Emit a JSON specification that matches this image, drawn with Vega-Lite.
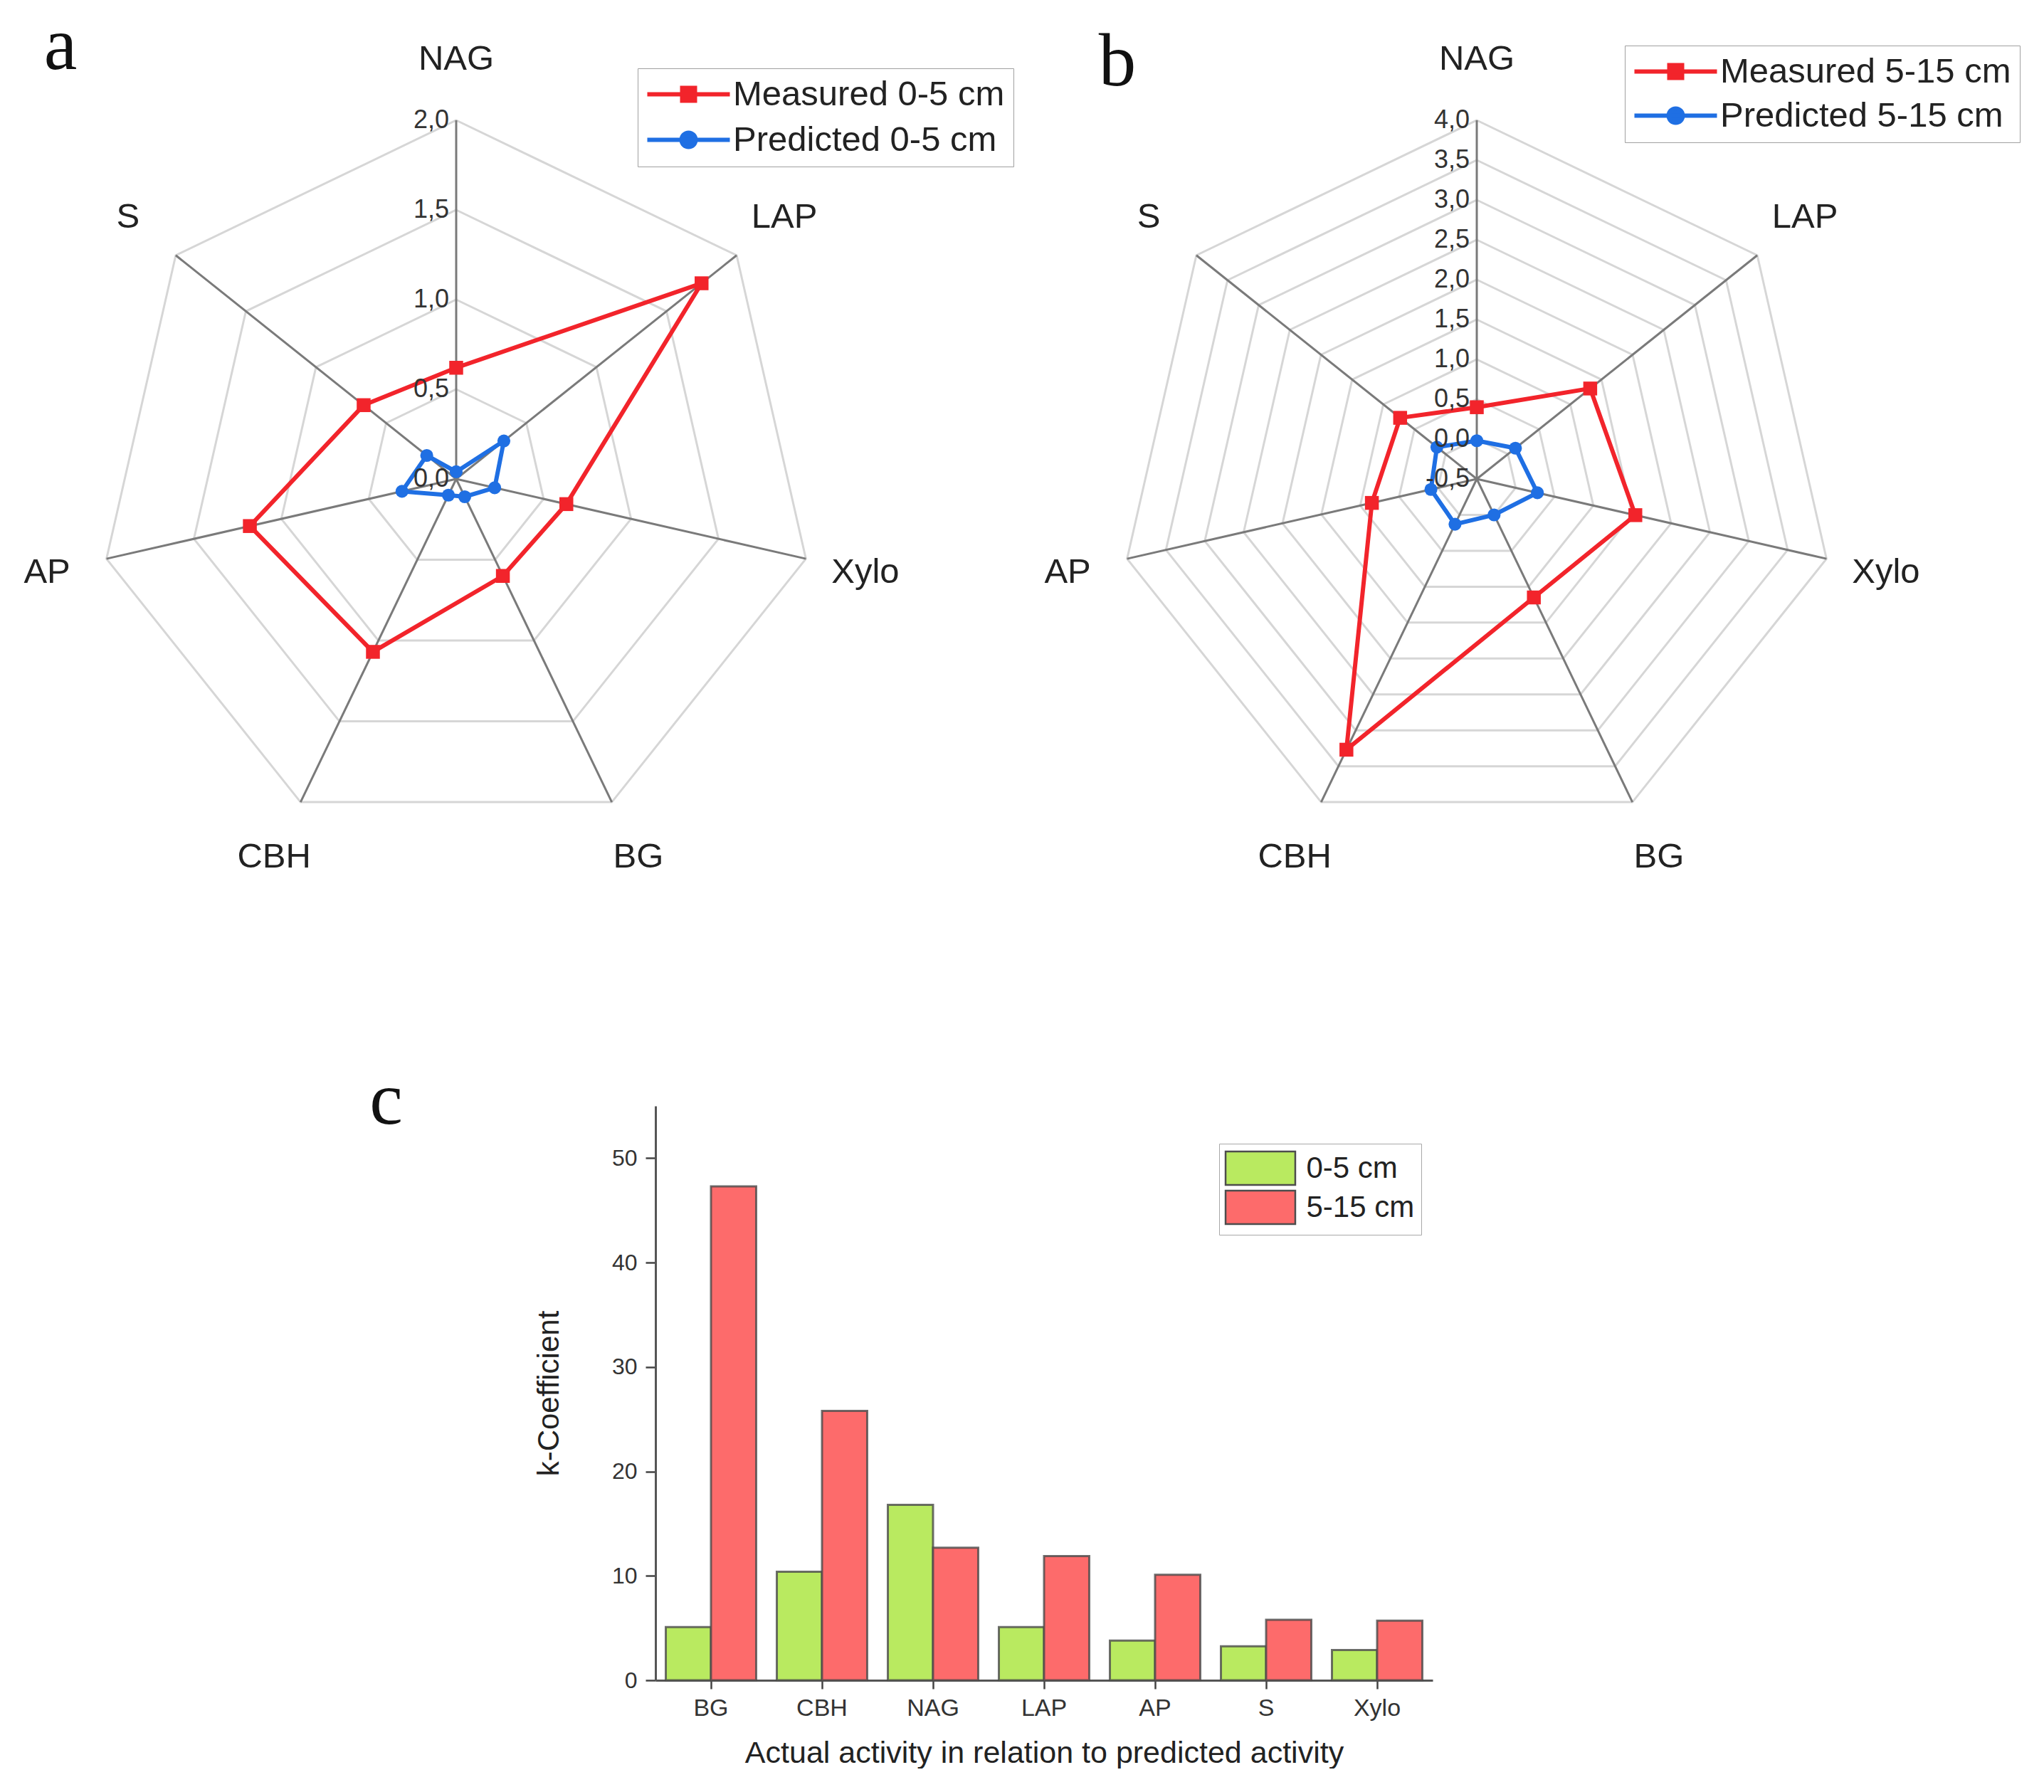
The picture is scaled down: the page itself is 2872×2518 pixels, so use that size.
{
  "$schema": "https://vega.github.io/schema/vega-lite/v6.json",
  "background": "white",
  "padding": 0,
  "bounds": "full",
  "spacing": 195,
  "resolve": {"scale": {"color": "independent"}, "legend": {"color": "independent"}},
  "config": {
    "view": {"stroke": null},
    "font": "Liberation Sans",
    "axis": {"grid": false},
    "text": {"font": "Liberation Sans"}
  },
  "datasets": {
    "enz": [{"enzyme": "NAG"}, {"enzyme": "LAP"}, {"enzyme": "Xylo"}, {"enzyme": "BG"}, {"enzyme": "CBH"}, {"enzyme": "AP"}, {"enzyme": "S"}],
    "ringsA": [
      {"ring": 0.5, "enzyme": ["NAG", "LAP", "Xylo", "BG", "CBH", "AP", "S"]},
      {"ring": 1.0, "enzyme": ["NAG", "LAP", "Xylo", "BG", "CBH", "AP", "S"]},
      {"ring": 1.5, "enzyme": ["NAG", "LAP", "Xylo", "BG", "CBH", "AP", "S"]},
      {"ring": 2.0, "enzyme": ["NAG", "LAP", "Xylo", "BG", "CBH", "AP", "S"]}
    ],
    "ringsB": [
      {"ring": 0.0, "enzyme": ["NAG", "LAP", "Xylo", "BG", "CBH", "AP", "S"]},
      {"ring": 0.5, "enzyme": ["NAG", "LAP", "Xylo", "BG", "CBH", "AP", "S"]},
      {"ring": 1.0, "enzyme": ["NAG", "LAP", "Xylo", "BG", "CBH", "AP", "S"]},
      {"ring": 1.5, "enzyme": ["NAG", "LAP", "Xylo", "BG", "CBH", "AP", "S"]},
      {"ring": 2.0, "enzyme": ["NAG", "LAP", "Xylo", "BG", "CBH", "AP", "S"]},
      {"ring": 2.5, "enzyme": ["NAG", "LAP", "Xylo", "BG", "CBH", "AP", "S"]},
      {"ring": 3.0, "enzyme": ["NAG", "LAP", "Xylo", "BG", "CBH", "AP", "S"]},
      {"ring": 3.5, "enzyme": ["NAG", "LAP", "Xylo", "BG", "CBH", "AP", "S"]},
      {"ring": 4.0, "enzyme": ["NAG", "LAP", "Xylo", "BG", "CBH", "AP", "S"]}
    ],
    "ticksA": [
      {"t": "2,0", "v": 2.0}, {"t": "1,5", "v": 1.5}, {"t": "1,0", "v": 1.0}, {"t": "0,5", "v": 0.5}, {"t": "0,0", "v": 0.0}
    ],
    "ticksB": [
      {"t": "4,0", "v": 4.0}, {"t": "3,5", "v": 3.5}, {"t": "3,0", "v": 3.0}, {"t": "2,5", "v": 2.5}, {"t": "2,0", "v": 2.0},
      {"t": "1,5", "v": 1.5}, {"t": "1,0", "v": 1.0}, {"t": "0,5", "v": 0.5}, {"t": "0,0", "v": 0.0}, {"t": "-0,5", "v": -0.5}
    ],
    "serA": [
      {"enzyme": "NAG", "series": "Measured 0-5 cm", "value": 0.62},
      {"enzyme": "LAP", "series": "Measured 0-5 cm", "value": 1.75},
      {"enzyme": "Xylo", "series": "Measured 0-5 cm", "value": 0.63},
      {"enzyme": "BG", "series": "Measured 0-5 cm", "value": 0.6},
      {"enzyme": "CBH", "series": "Measured 0-5 cm", "value": 1.07},
      {"enzyme": "AP", "series": "Measured 0-5 cm", "value": 1.18},
      {"enzyme": "S", "series": "Measured 0-5 cm", "value": 0.66},
      {"enzyme": "NAG", "series": "Predicted 0-5 cm", "value": 0.04},
      {"enzyme": "LAP", "series": "Predicted 0-5 cm", "value": 0.34},
      {"enzyme": "Xylo", "series": "Predicted 0-5 cm", "value": 0.22},
      {"enzyme": "BG", "series": "Predicted 0-5 cm", "value": 0.11},
      {"enzyme": "CBH", "series": "Predicted 0-5 cm", "value": 0.1},
      {"enzyme": "AP", "series": "Predicted 0-5 cm", "value": 0.31},
      {"enzyme": "S", "series": "Predicted 0-5 cm", "value": 0.21}
    ],
    "serB": [
      {"enzyme": "NAG", "series": "Measured 5-15 cm", "value": 0.4},
      {"enzyme": "LAP", "series": "Measured 5-15 cm", "value": 1.32},
      {"enzyme": "Xylo", "series": "Measured 5-15 cm", "value": 1.54},
      {"enzyme": "BG", "series": "Measured 5-15 cm", "value": 1.15},
      {"enzyme": "CBH", "series": "Measured 5-15 cm", "value": 3.27},
      {"enzyme": "AP", "series": "Measured 5-15 cm", "value": 0.85},
      {"enzyme": "S", "series": "Measured 5-15 cm", "value": 0.73},
      {"enzyme": "NAG", "series": "Predicted 5-15 cm", "value": -0.02},
      {"enzyme": "LAP", "series": "Predicted 5-15 cm", "value": 0.12},
      {"enzyme": "Xylo", "series": "Predicted 5-15 cm", "value": 0.28},
      {"enzyme": "BG", "series": "Predicted 5-15 cm", "value": 0.0},
      {"enzyme": "CBH", "series": "Predicted 5-15 cm", "value": 0.13},
      {"enzyme": "AP", "series": "Predicted 5-15 cm", "value": 0.09},
      {"enzyme": "S", "series": "Predicted 5-15 cm", "value": 0.14}
    ],
    "bars": [
      {"enzyme": "BG", "depth": "0-5 cm", "coef": 5.1}, {"enzyme": "BG", "depth": "5-15 cm", "coef": 47.3},
      {"enzyme": "CBH", "depth": "0-5 cm", "coef": 10.4}, {"enzyme": "CBH", "depth": "5-15 cm", "coef": 25.8},
      {"enzyme": "NAG", "depth": "0-5 cm", "coef": 16.8}, {"enzyme": "NAG", "depth": "5-15 cm", "coef": 12.7},
      {"enzyme": "LAP", "depth": "0-5 cm", "coef": 5.1}, {"enzyme": "LAP", "depth": "5-15 cm", "coef": 11.9},
      {"enzyme": "AP", "depth": "0-5 cm", "coef": 3.8}, {"enzyme": "AP", "depth": "5-15 cm", "coef": 10.1},
      {"enzyme": "S", "depth": "0-5 cm", "coef": 3.25}, {"enzyme": "S", "depth": "5-15 cm", "coef": 5.8},
      {"enzyme": "Xylo", "depth": "0-5 cm", "coef": 2.9}, {"enzyme": "Xylo", "depth": "5-15 cm", "coef": 5.7}
    ]
  },
  "vconcat": [
    {
      "bounds": "flush",
      "spacing": 0,
      "resolve": {"scale": {"color": "independent"}, "legend": {"color": "independent"}},
      "hconcat": [
        {
          "width": 1436,
          "height": 1300,
          "encoding": {
            "x": {"field": "x", "type": "quantitative", "scale": {"domain": [-1.2718, 1.5774]}, "axis": null},
            "y": {"field": "y", "type": "quantitative", "scale": {"domain": [-1.244, 1.3353]}, "axis": null}
          },
          "layer": [
            {
              "data": {"name": "ringsA"},
              "transform": [
                {"flatten": ["enzyme"]},
                {"calculate": "indexof(['NAG','LAP','Xylo','BG','CBH','AP','S'], datum.enzyme)", "as": "k"},
                {"calculate": "datum.ring / 2", "as": "r"},
                {"calculate": "datum.r * sin(datum.k * 2 * PI / 7)", "as": "x"},
                {"calculate": "datum.r * cos(datum.k * 2 * PI / 7)", "as": "y"}
              ],
              "mark": {"type": "line", "interpolate": "linear-closed", "stroke": "#d6d6d6", "strokeWidth": 3},
              "encoding": {"detail": {"field": "ring", "type": "nominal"}, "order": {"field": "k", "type": "quantitative"}}
            },
            {
              "data": {"name": "enz"},
              "transform": [
                {"calculate": "indexof(['NAG','LAP','Xylo','BG','CBH','AP','S'], datum.enzyme)", "as": "k"},
                {"calculate": "sin(datum.k * 2 * PI / 7)", "as": "x"},
                {"calculate": "cos(datum.k * 2 * PI / 7)", "as": "y"},
                {"calculate": "0", "as": "zero"}
              ],
              "mark": {"type": "rule", "stroke": "#7a7a7a", "strokeWidth": 3},
              "encoding": {"x2": {"field": "zero"}, "y2": {"field": "zero"}}
            },
            {
              "data": {"name": "serA"},
              "transform": [
                {"calculate": "indexof(['NAG','LAP','Xylo','BG','CBH','AP','S'], datum.enzyme)", "as": "k"},
                {"calculate": "datum.value / 2", "as": "r"},
                {"calculate": "datum.r * sin(datum.k * 2 * PI / 7)", "as": "x"},
                {"calculate": "datum.r * cos(datum.k * 2 * PI / 7)", "as": "y"}
              ],
              "mark": {"type": "line", "interpolate": "linear-closed", "strokeWidth": 6},
              "encoding": {
                "order": {"field": "k", "type": "quantitative"},
                "color": {
                  "field": "series", "type": "nominal",
                  "scale": {"domain": ["Measured 0-5 cm", "Predicted 0-5 cm"], "range": ["#f2242b", "#1f6fe3"]},
                  "legend": {
                    "title": null, "orient": "none", "legendX": 896, "legendY": 96, "padding": 12,
                    "strokeColor": "#a0a0a0", "fillColor": "#ffffff",
                    "labelFont": "Liberation Sans", "labelFontSize": 49, "labelColor": "#222222", "labelLimit": 1000,
                    "symbolSize": 1600, "symbolStrokeWidth": 6, "symbolOffset": 35, "labelOffset": 38, "rowPadding": 14,
                    "encode": {"symbols": {"update": {
                      "shape": {"signal": "datum.value === 'Measured 0-5 cm' ? 'M-2.9,0H2.9M-0.45,-0.45H0.45V0.45H-0.45Z' : 'M-2.9,0H2.9M-0.5,0A0.5,0.5,0,1,1,0.5,0A0.5,0.5,0,1,1,-0.5,0Z'"},
                      "fill": {"signal": "datum.value === 'Measured 0-5 cm' ? '#f2242b' : '#1f6fe3'"},
                      "stroke": {"signal": "datum.value === 'Measured 0-5 cm' ? '#f2242b' : '#1f6fe3'"},
                      "strokeWidth": {"value": 6},
                      "size": {"value": 1600},
                      "opacity": {"value": 1}
                    }}}
                  }
                }
              }
            },
            {
              "data": {"name": "serA"},
              "transform": [
                {"filter": "datum.series === 'Measured 0-5 cm'"},
                {"calculate": "indexof(['NAG','LAP','Xylo','BG','CBH','AP','S'], datum.enzyme)", "as": "k"},
                {"calculate": "datum.value / 2", "as": "r"},
                {"calculate": "datum.r * sin(datum.k * 2 * PI / 7)", "as": "x"},
                {"calculate": "datum.r * cos(datum.k * 2 * PI / 7)", "as": "y"}
              ],
              "mark": {"type": "point", "shape": "square", "filled": true, "opacity": 1, "size": 380},
              "encoding": {"color": {"field": "series", "type": "nominal"}}
            },
            {
              "data": {"name": "serA"},
              "transform": [
                {"filter": "datum.series === 'Predicted 0-5 cm'"},
                {"calculate": "indexof(['NAG','LAP','Xylo','BG','CBH','AP','S'], datum.enzyme)", "as": "k"},
                {"calculate": "datum.value / 2", "as": "r"},
                {"calculate": "datum.r * sin(datum.k * 2 * PI / 7)", "as": "x"},
                {"calculate": "datum.r * cos(datum.k * 2 * PI / 7)", "as": "y"}
              ],
              "mark": {"type": "point", "shape": "circle", "filled": true, "opacity": 1, "size": 330},
              "encoding": {"color": {"field": "series", "type": "nominal"}}
            },
            {
              "data": {"name": "enz"},
              "transform": [
                {"calculate": "indexof(['NAG','LAP','Xylo','BG','CBH','AP','S'], datum.enzyme)", "as": "k"},
                {"calculate": "1.17 * sin(datum.k * 2 * PI / 7)", "as": "x"},
                {"calculate": "1.17 * cos(datum.k * 2 * PI / 7)", "as": "y"}
              ],
              "mark": {"type": "text", "fontSize": 49, "align": "center", "baseline": "middle", "color": "#222222"},
              "encoding": {"text": {"field": "enzyme", "type": "nominal"}}
            },
            {
              "data": {"name": "ticksA"},
              "transform": [
                {"calculate": "0", "as": "x"},
                {"calculate": "datum.v / 2", "as": "y"}
              ],
              "mark": {"type": "text", "fontSize": 36, "align": "right", "baseline": "middle", "dx": -10, "color": "#333333"},
              "encoding": {"text": {"field": "t", "type": "nominal"}}
            },
            {
              "data": {"values": [{"lab": "a"}]},
              "transform": [
                {"calculate": "-1.103", "as": "x"},
                {"calculate": "1.143", "as": "y"}
              ],
              "mark": {"type": "text", "font": "Liberation Serif", "fontSize": 105, "align": "center", "baseline": "alphabetic", "color": "#111111"},
              "encoding": {"text": {"field": "lab", "type": "nominal"}}
            }
          ]
        },
        {
          "width": 1436,
          "height": 1300,
          "encoding": {
            "x": {"field": "x", "type": "quantitative", "scale": {"domain": [-1.2679, 1.5813]}, "axis": null},
            "y": {"field": "y", "type": "quantitative", "scale": {"domain": [-1.244, 1.3353]}, "axis": null}
          },
          "layer": [
            {
              "data": {"name": "ringsB"},
              "transform": [
                {"flatten": ["enzyme"]},
                {"calculate": "indexof(['NAG','LAP','Xylo','BG','CBH','AP','S'], datum.enzyme)", "as": "k"},
                {"calculate": "(datum.ring + 0.5) / 4.5", "as": "r"},
                {"calculate": "datum.r * sin(datum.k * 2 * PI / 7)", "as": "x"},
                {"calculate": "datum.r * cos(datum.k * 2 * PI / 7)", "as": "y"}
              ],
              "mark": {"type": "line", "interpolate": "linear-closed", "stroke": "#d6d6d6", "strokeWidth": 3},
              "encoding": {"detail": {"field": "ring", "type": "nominal"}, "order": {"field": "k", "type": "quantitative"}}
            },
            {
              "data": {"name": "enz"},
              "transform": [
                {"calculate": "indexof(['NAG','LAP','Xylo','BG','CBH','AP','S'], datum.enzyme)", "as": "k"},
                {"calculate": "sin(datum.k * 2 * PI / 7)", "as": "x"},
                {"calculate": "cos(datum.k * 2 * PI / 7)", "as": "y"},
                {"calculate": "0", "as": "zero"}
              ],
              "mark": {"type": "rule", "stroke": "#7a7a7a", "strokeWidth": 3},
              "encoding": {"x2": {"field": "zero"}, "y2": {"field": "zero"}}
            },
            {
              "data": {"name": "serB"},
              "transform": [
                {"calculate": "indexof(['NAG','LAP','Xylo','BG','CBH','AP','S'], datum.enzyme)", "as": "k"},
                {"calculate": "(datum.value + 0.5) / 4.5", "as": "r"},
                {"calculate": "datum.r * sin(datum.k * 2 * PI / 7)", "as": "x"},
                {"calculate": "datum.r * cos(datum.k * 2 * PI / 7)", "as": "y"}
              ],
              "mark": {"type": "line", "interpolate": "linear-closed", "strokeWidth": 6},
              "encoding": {
                "order": {"field": "k", "type": "quantitative"},
                "color": {
                  "field": "series", "type": "nominal",
                  "scale": {"domain": ["Measured 5-15 cm", "Predicted 5-15 cm"], "range": ["#f2242b", "#1f6fe3"]},
                  "legend": {
                    "title": null, "orient": "none", "legendX": 847, "legendY": 64, "padding": 12,
                    "strokeColor": "#a0a0a0", "fillColor": "#ffffff",
                    "labelFont": "Liberation Sans", "labelFontSize": 49, "labelColor": "#222222", "labelLimit": 1000,
                    "symbolSize": 1600, "symbolStrokeWidth": 6, "symbolOffset": 35, "labelOffset": 38, "rowPadding": 12,
                    "encode": {"symbols": {"update": {
                      "shape": {"signal": "datum.value === 'Measured 5-15 cm' ? 'M-2.9,0H2.9M-0.45,-0.45H0.45V0.45H-0.45Z' : 'M-2.9,0H2.9M-0.5,0A0.5,0.5,0,1,1,0.5,0A0.5,0.5,0,1,1,-0.5,0Z'"},
                      "fill": {"signal": "datum.value === 'Measured 5-15 cm' ? '#f2242b' : '#1f6fe3'"},
                      "stroke": {"signal": "datum.value === 'Measured 5-15 cm' ? '#f2242b' : '#1f6fe3'"},
                      "strokeWidth": {"value": 6},
                      "size": {"value": 1600},
                      "opacity": {"value": 1}
                    }}}
                  }
                }
              }
            },
            {
              "data": {"name": "serB"},
              "transform": [
                {"filter": "datum.series === 'Measured 5-15 cm'"},
                {"calculate": "indexof(['NAG','LAP','Xylo','BG','CBH','AP','S'], datum.enzyme)", "as": "k"},
                {"calculate": "(datum.value + 0.5) / 4.5", "as": "r"},
                {"calculate": "datum.r * sin(datum.k * 2 * PI / 7)", "as": "x"},
                {"calculate": "datum.r * cos(datum.k * 2 * PI / 7)", "as": "y"}
              ],
              "mark": {"type": "point", "shape": "square", "filled": true, "opacity": 1, "size": 380},
              "encoding": {"color": {"field": "series", "type": "nominal"}}
            },
            {
              "data": {"name": "serB"},
              "transform": [
                {"filter": "datum.series === 'Predicted 5-15 cm'"},
                {"calculate": "indexof(['NAG','LAP','Xylo','BG','CBH','AP','S'], datum.enzyme)", "as": "k"},
                {"calculate": "(datum.value + 0.5) / 4.5", "as": "r"},
                {"calculate": "datum.r * sin(datum.k * 2 * PI / 7)", "as": "x"},
                {"calculate": "datum.r * cos(datum.k * 2 * PI / 7)", "as": "y"}
              ],
              "mark": {"type": "point", "shape": "circle", "filled": true, "opacity": 1, "size": 330},
              "encoding": {"color": {"field": "series", "type": "nominal"}}
            },
            {
              "data": {"name": "enz"},
              "transform": [
                {"calculate": "indexof(['NAG','LAP','Xylo','BG','CBH','AP','S'], datum.enzyme)", "as": "k"},
                {"calculate": "1.17 * sin(datum.k * 2 * PI / 7)", "as": "x"},
                {"calculate": "1.17 * cos(datum.k * 2 * PI / 7)", "as": "y"}
              ],
              "mark": {"type": "text", "fontSize": 49, "align": "center", "baseline": "middle", "color": "#222222"},
              "encoding": {"text": {"field": "enzyme", "type": "nominal"}}
            },
            {
              "data": {"name": "ticksB"},
              "transform": [
                {"calculate": "0", "as": "x"},
                {"calculate": "(datum.v + 0.5) / 4.5", "as": "y"}
              ],
              "mark": {"type": "text", "fontSize": 36, "align": "right", "baseline": "middle", "dx": -10, "color": "#333333"},
              "encoding": {"text": {"field": "t", "type": "nominal"}}
            },
            {
              "data": {"values": [{"lab": "b"}]},
              "transform": [
                {"calculate": "-1.002", "as": "x"},
                {"calculate": "1.097", "as": "y"}
              ],
              "mark": {"type": "text", "font": "Liberation Serif", "fontSize": 105, "align": "center", "baseline": "alphabetic", "color": "#111111"},
              "encoding": {"text": {"field": "lab", "type": "nominal"}}
            }
          ]
        }
      ]
    },
    {
      "bounds": "flush",
      "spacing": 0,
      "resolve": {"scale": {"color": "independent"}, "legend": {"color": "independent"}},
      "hconcat": [
        {
          "width": 921,
          "height": 10,
          "data": {"values": [{"lab": "c"}]},
          "mark": {"type": "text", "font": "Liberation Serif", "fontSize": 105, "align": "center", "baseline": "alphabetic", "dx": 82, "dy": 20, "color": "#111111"},
          "encoding": {"text": {"field": "lab", "type": "nominal"}}
        },
        {
          "width": 1092,
          "height": 807,
          "data": {"name": "bars"},
          "mark": {"type": "bar", "stroke": "#4a4a4a", "strokeWidth": 3, "strokeOpacity": 0.8},
          "encoding": {
            "x": {
              "field": "enzyme", "type": "nominal",
              "sort": ["BG", "CBH", "NAG", "LAP", "AP", "S", "Xylo"],
              "scale": {"paddingInner": 0.186, "paddingOuter": 0.093},
              "title": "Actual activity in relation to predicted activity",
              "axis": {
                "labelAngle": 0, "labelFontSize": 34, "labelColor": "#333333", "labelPadding": 10,
                "tickSize": 12, "tickWidth": 2.5, "tickColor": "#444444",
                "domainColor": "#555555", "domainWidth": 3,
                "titleFontSize": 43, "titleFontWeight": "normal", "titleColor": "#222222", "titlePadding": 25
              }
            },
            "xOffset": {"field": "depth", "type": "nominal", "sort": ["0-5 cm", "5-15 cm"], "scale": {"paddingInner": 0, "paddingOuter": 0}},
            "y": {
              "field": "coef", "type": "quantitative",
              "scale": {"domain": [0, 55], "nice": false},
              "title": "k-Coefficient",
              "axis": {
                "values": [0, 10, 20, 30, 40, 50],
                "labelFontSize": 32, "labelColor": "#333333", "labelPadding": 12,
                "tickSize": 14, "tickWidth": 2.5, "tickColor": "#444444",
                "domainColor": "#555555", "domainWidth": 3,
                "titleFontSize": 42, "titleFontWeight": "normal", "titleColor": "#222222", "titlePadding": 66
              }
            },
            "color": {
              "field": "depth", "type": "nominal",
              "scale": {"domain": ["0-5 cm", "5-15 cm"], "range": ["#b9ea60", "#fd6b6b"]},
              "legend": {
                "title": null, "orient": "none", "legendX": 792, "legendY": 53, "padding": 9,
                "strokeColor": "#a8a8a8", "fillColor": "#ffffff",
                "labelFontSize": 42, "labelColor": "#222222",
                "symbolType": "M-2.04,-0.98H2.04V0.98H-2.04Z", "symbolSize": 2304,
                "symbolStrokeWidth": 2.5, "symbolStrokeColor": "#4d4d4d", "symbolOpacity": 1,
                "symbolOffset": 23.5, "labelOffset": 39, "rowPadding": -6
              }
            }
          }
        }
      ]
    }
  ]
}
